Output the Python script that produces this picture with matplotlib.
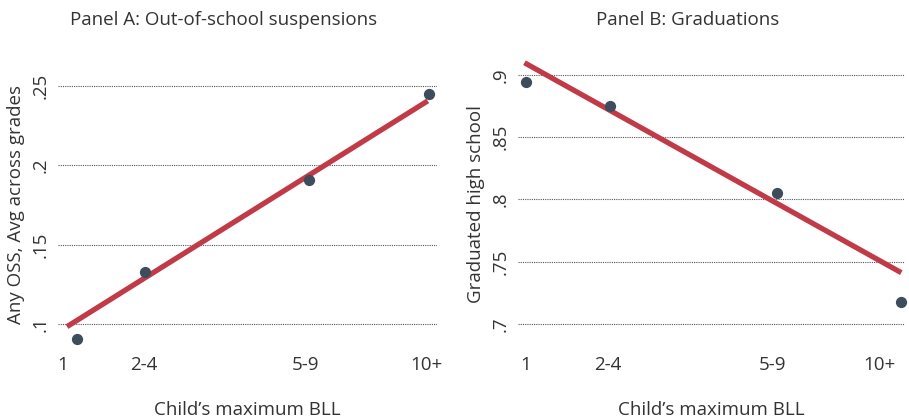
import matplotlib
matplotlib.use("Agg")
import matplotlib.pyplot as plt

plt.rcParams['font.family'] = ['Open Sans', 'DejaVu Sans']

# BLL bins on the x axis
tick_pos = [1, 3, 7, 10]
tick_labels = ["1", "2-4", "5-9", "10+"]

# Panel A: any out-of-school suspension
oss_x = [1.35, 3.03, 7.09, 10.06]
oss_y = [0.0905, 0.1325, 0.1907, 0.245]
oss_fit_x = [1.1, 10.03]
oss_fit_y = [0.0983, 0.2407]
oss_yticks = [0.1, 0.15, 0.2, 0.25]
oss_yticklabels = [".1", ".15", ".2", ".25"]

# Panel B: graduated high school
grad_x = [1.0, 3.06, 7.1, 10.13]
grad_y = [0.894, 0.875, 0.8054, 0.7177]
grad_fit_x = [0.97, 10.13]
grad_fit_y = [0.9096, 0.7412]
grad_yticks = [0.7, 0.75, 0.8, 0.85, 0.9]
grad_yticklabels = [".7", ".75", ".8", ".85", ".9"]

dot_color = "#3d4d5c"
line_color = "#c03a48"
text_color = "#333333"

fig = plt.figure(figsize=(9.09, 4.18), dpi=100)
axA = fig.add_axes([58/909, 1-348/418, 379/909, 288/418])
axB = fig.add_axes([518/909, 1-348/418, 387/909, 288/418])


def style(ax, yticks, yticklabels, ylabel):
    for s in ax.spines.values():
        s.set_visible(False)
    ax.set_xticks(tick_pos)
    ax.set_xticklabels(tick_labels, fontsize=13.5, color=text_color)
    ax.set_yticks(yticks)
    ax.set_yticklabels(yticklabels, fontsize=13.5, color=text_color,
                       rotation=90, va="center")
    ax.tick_params(length=0, axis="x", pad=6)
    ax.tick_params(length=0, axis="y", pad=6)
    ax.yaxis.grid(True, linestyle=(0, (1, 1)), color="#555555", linewidth=0.8)
    ax.set_axisbelow(True)
    ax.set_xlabel("Child\u2019s maximum BLL", fontsize=13.5, color=text_color,
                  labelpad=19)
    ax.set_ylabel(ylabel, fontsize=13.5, color=text_color, labelpad=5)


axA.plot(oss_fit_x, oss_fit_y, color=line_color, linewidth=3.8, solid_capstyle="butt", zorder=2)
axA.scatter(oss_x, oss_y, s=50, color=dot_color, zorder=3)
axA.set_xlim(0.876, 10.26)
axA.set_ylim(0.0848, 0.2665)
style(axA, oss_yticks, oss_yticklabels, "Any OSS, Avg across grades")

axB.plot(grad_fit_x, grad_fit_y, color=line_color, linewidth=3.8, solid_capstyle="butt", zorder=2)
axB.scatter(grad_x, grad_y, s=50, color=dot_color, zorder=3, clip_on=False)
axB.set_xlim(0.813, 10.22)
axB.set_ylim(0.6808, 0.9118)
style(axB, grad_yticks, grad_yticklabels, "Graduated high school")
# keep the last bin label inside the figure edge
axB.get_xticklabels()[-1].set_horizontalalignment("right")
axB.get_xticklabels()[-1].set_x(10.3)

fig.text(224/909, 1-20/418, "Panel A: Out-of-school suspensions", fontsize=13.5,
         color=text_color, ha="center", va="center")
fig.text(688/909, 1-20/418, "Panel B: Graduations", fontsize=13.5,
         color=text_color, ha="center", va="center")

fig.savefig("out.png", dpi=100, facecolor="white")
